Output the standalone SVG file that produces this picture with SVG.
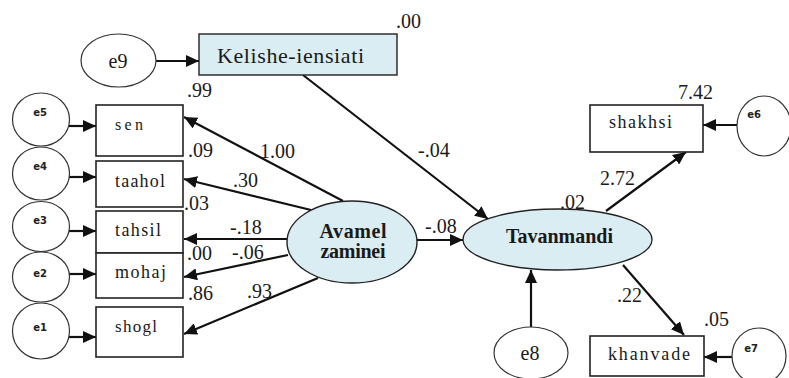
<svg xmlns="http://www.w3.org/2000/svg" width="789" height="378" viewBox="0 0 789 378">
<defs>
<marker id="ah" markerUnits="userSpaceOnUse" markerWidth="14" markerHeight="12" refX="13" refY="6" orient="auto">
<path d="M0,0 L13,6 L0,12 Z" fill="#111"/>
</marker>
</defs>
<style>
.box{fill:#fff;stroke:#222;stroke-width:1.6}
.lat{fill:#daedf3;stroke:#222;stroke-width:1.4}
.err{fill:#fff;stroke:#333;stroke-width:1.2}
.c{stroke:#111;stroke-width:2.2;fill:none;marker-end:url(#ah)}
text{font-family:'Liberation Serif','DejaVu Serif',serif;fill:#1a1a1a}
.num{font-size:20px}
.lbl{font-size:18px}
.sml{font-family:'DejaVu Sans',sans-serif;font-size:10px;font-weight:bold;fill:#222}
.b{font-weight:bold;font-size:20px}
</style>
<rect width="789" height="378" fill="#fff"/>
<g id="connectors">
<line class="c" x1="156" y1="61" x2="199" y2="61"/>
<line class="c" x1="69" y1="126" x2="96" y2="126"/>
<line class="c" x1="69" y1="177" x2="96" y2="177"/>
<line class="c" x1="69" y1="231" x2="96" y2="231"/>
<line class="c" x1="69" y1="274" x2="96" y2="274"/>
<line class="c" x1="68" y1="337" x2="96" y2="337"/>
<line class="c" x1="343" y1="201" x2="184" y2="117"/>
<line class="c" x1="311" y1="210" x2="184" y2="179"/>
<line class="c" x1="287" y1="239" x2="184" y2="239"/>
<line class="c" x1="288" y1="255" x2="184" y2="277"/>
<line class="c" x1="318" y1="278" x2="184" y2="334"/>
<line class="c" x1="303" y1="75" x2="488" y2="219"/>
<line class="c" x1="417" y1="240" x2="463" y2="240"/>
<line class="c" x1="531" y1="327" x2="531" y2="270"/>
<line class="c" x1="606" y1="211" x2="686" y2="152"/>
<line class="c" x1="623" y1="265" x2="684" y2="335"/>
<line class="c" x1="737" y1="125" x2="703" y2="125"/>
<line class="c" x1="732" y1="357" x2="704" y2="357"/>
</g>
<g id="e9"><ellipse class="err" cx="118.5" cy="60.5" rx="37.5" ry="26.5"/><text x="118" y="68" font-size="20" text-anchor="middle">e9</text></g>
<g id="kelishe"><rect class="lat" x="199" y="34" width="198" height="41"/><text x="217" y="63" font-size="22" textLength="147" lengthAdjust="spacing">Kelishe-iensiati</text></g>
<g id="e5"><ellipse class="err" cx="41" cy="119.5" rx="28.5" ry="26.5"/><text class="sml" x="40" y="116" text-anchor="middle">e5</text></g>
<g id="e4"><ellipse class="err" cx="41" cy="173.5" rx="28.5" ry="26.5"/><text class="sml" x="40" y="170" text-anchor="middle">e4</text></g>
<g id="e3"><ellipse class="err" cx="41" cy="226.5" rx="28.5" ry="25"/><text class="sml" x="40" y="224" text-anchor="middle">e3</text></g>
<g id="e2"><ellipse class="err" cx="41" cy="277" rx="28.5" ry="25"/><text class="sml" x="40" y="277" text-anchor="middle">e2</text></g>
<g id="e1"><ellipse class="err" cx="41" cy="331" rx="28.5" ry="28"/><text class="sml" x="40" y="331" text-anchor="middle">e1</text></g>
<g id="sen"><rect class="box" x="96" y="105" width="87" height="51"/><text x="115" y="130" font-size="16" textLength="28" lengthAdjust="spacing">sen</text></g>
<g id="taahol"><rect class="box" x="96" y="161" width="87" height="46"/><text class="lbl" x="115" y="187" textLength="50" lengthAdjust="spacing">taahol</text></g>
<g id="tahsil"><rect class="box" x="96" y="211" width="87" height="42"/><text class="lbl" x="115" y="236" textLength="46" lengthAdjust="spacing">tahsil</text></g>
<g id="mohaj"><rect class="box" x="96" y="253" width="87" height="45"/><text class="lbl" x="115" y="278" textLength="51" lengthAdjust="spacing">mohaj</text></g>
<g id="shogl"><rect class="box" x="96" y="307" width="87" height="50"/><text x="115" y="332" font-size="17" textLength="42" lengthAdjust="spacing">shogl</text></g>
<g id="avamel"><ellipse class="lat" cx="352" cy="242" rx="65" ry="41"/><text class="b" x="353" y="238" text-anchor="middle" textLength="67" lengthAdjust="spacing">Avamel</text><text class="b" x="353" y="258" text-anchor="middle" textLength="65" lengthAdjust="spacing">zaminei</text></g>
<g id="tavanmandi"><ellipse class="lat" cx="557.5" cy="239.5" rx="94.5" ry="30.5"/><text class="b" x="506" y="243" textLength="107" lengthAdjust="spacing">Tavanmandi</text></g>
<g id="e8"><ellipse class="err" cx="531" cy="353" rx="37" ry="26"/><text x="530" y="360" font-size="20" text-anchor="middle">e8</text></g>
<g id="shakhsi"><rect class="box" x="590" y="105" width="113" height="47"/><text class="lbl" x="609" y="128" textLength="63" lengthAdjust="spacing">shakhsi</text></g>
<g id="e6"><ellipse class="err" cx="764" cy="126" rx="27" ry="30"/><text class="sml" x="754" y="118" text-anchor="middle">e6</text></g>
<g id="khanvade"><rect class="box" x="590" y="336" width="114" height="40"/><text class="lbl" x="608" y="360" textLength="82" lengthAdjust="spacing">khanvade</text></g>
<g id="e7"><ellipse class="err" cx="759" cy="356" rx="27" ry="28"/><text class="sml" x="751" y="352" text-anchor="middle">e7</text></g>
<g id="labels">
<text class="num" x="396" y="28">.00</text>
<text class="num" x="187" y="97">.99</text>
<text class="num" x="188" y="157">.09</text>
<text class="num" x="260" y="158">1.00</text>
<text class="num" x="233" y="187">.30</text>
<text class="num" x="184" y="210">.03</text>
<text class="num" x="230" y="234">-.18</text>
<text class="num" x="187" y="260">.00</text>
<text class="num" x="232" y="259">-.06</text>
<text class="num" x="188" y="300">.86</text>
<text class="num" x="247" y="298">.93</text>
<text class="num" x="418" y="157">-.04</text>
<text class="num" x="425" y="233">-.08</text>
<text class="num" x="560" y="209">.02</text>
<text class="num" x="600" y="185">2.72</text>
<text class="num" x="678" y="99">7.42</text>
<text class="num" x="617" y="302">.22</text>
<text class="num" x="704" y="326">.05</text>
</g>
</svg>
